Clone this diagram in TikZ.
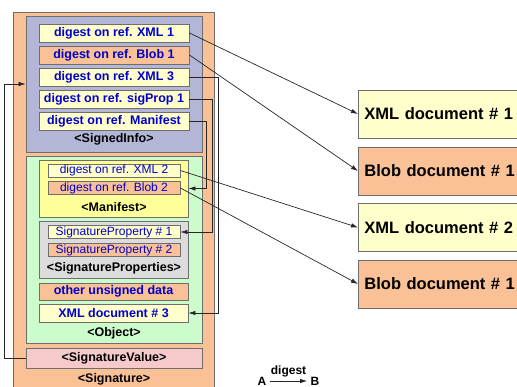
\documentclass[tikz,border=0pt]{standalone}
\usepackage{fontspec}
\setmainfont{Liberation Sans}
\usetikzlibrary{arrows.meta,positioning}

\definecolor{sigorange}{HTML}{F9C195}
\definecolor{infoblue}{HTML}{B4B6D8}
\definecolor{objgreen}{HTML}{CCFCCC}
\definecolor{maniyellow}{HTML}{FFFF99}
\definecolor{paleyellow}{HTML}{FFFFCC}
\definecolor{propgray}{HTML}{DCDCDC}
\definecolor{valpink}{HTML}{F6CACA}
\definecolor{refblue}{HTML}{0000CC}
\definecolor{edgegray}{HTML}{6E6E6E}

\begin{document}
\begin{tikzpicture}[x=1pt,y=-1pt,
  cont/.style={draw=edgegray,line width=0.9pt,inner sep=0pt},
  refbox/.style={cont,minimum width=150,minimum height=18,text=refblue,
    font=\fontsize{12.5}{14}\selectfont\bfseries},
  subref/.style={cont,minimum width=132,minimum height=13,text=refblue,
    font=\fontsize{12}{14}\selectfont},
  tag/.style={font=\fontsize{12.5}{14}\selectfont\bfseries},
  docbox/.style={cont,anchor=west,text width=190,align=left,inner xsep=6,
    minimum height=48,font=\fontsize{16.5}{19}\selectfont\bfseries},
  key/.style={font=\fontsize{12}{14}\selectfont\bfseries},
  link/.style={draw=black!85,line width=0.7pt,-{Latex[length=7pt,width=4.5pt]}}]
\clip (0,0) rectangle (517,387);
\useasboundingbox (0,0) rectangle (517,387);

% containers
\node[cont,fill=sigorange,minimum width=201,minimum height=383] (signature) at (113.5,203.5) {};
\node[cont,fill=infoblue,minimum width=176,minimum height=136] (signedinfo) at (114,84) {};
\node[cont,fill=objgreen,minimum width=176,minimum height=187] (object) at (114,249.5) {};
\node[cont,fill=maniyellow,minimum width=149,minimum height=57] (manifest) at (113.5,188.5) {};
\node[cont,fill=propgray,minimum width=149,minimum height=57] (sigprops) at (113.5,249.5) {};
\node[cont,fill=valpink,minimum width=176,minimum height=20] (sigval) at (114,358) {};

% SignedInfo references
\node[refbox,fill=paleyellow] (xmlA) at (114,33) {digest on ref. XML 1};
\node[refbox,fill=sigorange] (blobA) at (114,55) {digest on ref. Blob 1};
\node[refbox,fill=paleyellow] (xmlC) at (114,77) {digest on ref. XML 3};
\node[refbox,fill=paleyellow] (propA) at (114,99) {digest on ref. sigProp 1};
\node[refbox,fill=paleyellow] (mani) at (114,121) {digest on ref. Manifest};
\node[tag] (infotag) at (114,139) {<SignedInfo>};

% Object contents
\node[subref,fill=paleyellow] (xmlB) at (114,170.5) {digest on ref. XML 2};
\node[subref,fill=sigorange] (blobB) at (114,188) {digest on ref. Blob 2};
\node[tag] (manitag) at (114,207) {<Manifest>};
\node[subref,fill=paleyellow] (propA1) at (114,232) {SignatureProperty \# 1};
\node[subref,fill=sigorange] (propA2) at (114,250) {SignatureProperty \# 2};
\node[tag] (proptag) at (114,268) {<SignatureProperties>};
\node[refbox,fill=sigorange,minimum width=149,minimum height=17] (other) at (113.5,291.5) {other unsigned data};
\node[refbox,fill=paleyellow,minimum width=149] (xdoc) at (113.5,313) {XML document \# 3};
\node[tag] (objtag) at (114,333) {<Object>};
\node[tag] (valtag) at (114,358) {<SignatureValue>};
\node[tag] (sigtag) at (114,379) {<Signature>};

% referenced documents
\node[docbox,fill=paleyellow] (doc1) at (358,114) {XML document \# 1};
\node[docbox,fill=sigorange] (doc2) at (358,171) {Blob document \# 1};
\node[docbox,fill=paleyellow] (doc3) at (358,227.5) {XML document \# 2};
\node[docbox,fill=sigorange] (doc4) at (358,284) {Blob document \# 1};

\draw[link] (xmlA.east) -- (doc1.west);
\draw[link] (blobA.east) -- (doc2.west);
\draw[link] (xmlB.east) -- (doc3.west);
\draw[link] (blobB.east) -- (doc4.west);
\draw[link] (xmlC.east) -- ++(29,0) |- (xdoc.east);
\draw[link] (propA.east) -- ++(23,0) |- (propA1.east);
\draw[link] (mani.east) -- ++(17,0) |- (manifest.east);
\draw[link] (sigval.west) -- ++(-21,0) |- (signedinfo.west);

% legend
\node[key] (ka) at (262,381) {A};
\node[key] (kb) at (315,381) {B};
\draw[link] (ka.east) -- (kb.west) node[midway,above=0pt,key] {digest};
\end{tikzpicture}
\end{document}
